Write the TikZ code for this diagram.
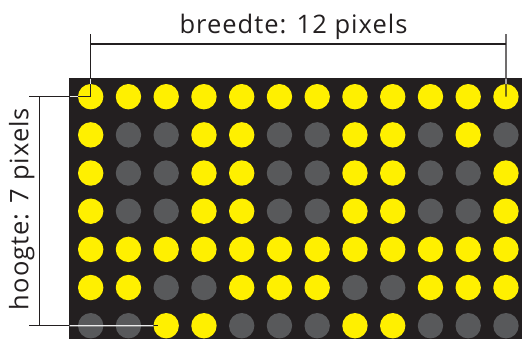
\documentclass[tikz,border=0pt]{standalone}
\usepackage{fontspec}
\setmainfont{Open Sans}[LetterSpace=4]
\definecolor{panel}{HTML}{231F20}
\definecolor{ledon}{HTML}{FFF000}
\definecolor{ledoff}{HTML}{58595B}
\definecolor{dimline}{HTML}{231F20}
\tikzset{
  dot/.style={circle, draw=none, inner sep=0pt, minimum size=25.4pt},
  s1/.style={fill=ledon},
  s0/.style={fill=ledoff},
  dimstyle/.style={draw=dimline, line width=1.2pt},
  dimhalo/.style={draw=white!92!black, line width=1.2pt},
  lbl/.style={inner sep=0pt, font=\fontsize{25.5}{30}\selectfont, text=panel}
}
\begin{document}
\begin{tikzpicture}[x=1pt,y=1pt]
\useasboundingbox (0,0) rectangle (522,-338);
\begin{scope}
\clip (0,0) rectangle (522,-338);
\fill[panel] (69,-78) rectangle (530,-345);
\foreach [count=\r] \row in {
  {1,1,1,1,1,1,1,1,1,1,1,1},
  {1,0,0,1,1,0,0,1,1,0,1,0},
  {1,0,0,1,1,0,0,1,1,0,0,1},
  {1,0,0,1,1,0,0,1,1,0,0,1},
  {1,1,1,1,1,1,1,1,1,1,1,1},
  {1,1,0,0,1,1,1,0,0,1,1,1},
  {0,0,1,1,0,0,0,1,1,0,0,0}}{
  \foreach [count=\c] \v in \row {
    \node[dot, s\v] (d-\r-\c) at ({90.7+37.75*(\c-1)}, {-(96.7+38.17*(\r-1))}) {};
  }
}
\end{scope}
% dimension coordinates
\coordinate (wtl) at (90.7,-34);
\coordinate (wtr) at (506,-34);
\coordinate (wl) at (90.7,-44);
\coordinate (wr) at (506,-44);
\coordinate (htl) at (29,-96.7);
\coordinate (hbl) at (29,-325.7);
\coordinate (ht) at (39.3,-96.7);
\coordinate (hb) at (39.3,-325.7);
\coordinate (hend) at (158,-325.7);
% width dimension
\draw[dimstyle] (wtl) -- (d-1-1.center);
\draw[dimstyle] (wtr) -- (d-1-12.center);
\draw[dimstyle] (wl) -- (wr);
% height dimension
\draw[dimstyle] (htl) -- (d-1-1.center);
\draw[dimstyle] (hbl) -- (hend);
\draw[dimstyle] (ht) -- (hb);
% light parts over the dark panel
\coordinate (a1) at (90.7,-78.6);
\coordinate (a2) at (506,-78.6);
\coordinate (a3) at (69.6,-96.7);
\coordinate (a4) at (69.6,-325.7);
\draw[dimhalo] (a1) -- (d-1-1.north);
\draw[dimhalo] (a2) -- (d-1-12.north);
\draw[dimhalo] (a3) -- (d-1-1.west);
\draw[dimhalo] (a4) -- (d-7-3.west);
% labels
\node[lbl, anchor=base] (wlabel) at (293.5,-33.3) {breedte: 12 pixels};
\node[lbl, anchor=base, rotate=90] (hlabel) at (28.3,-209) {hoogte: 7 pixels};
\end{tikzpicture}
\end{document}
